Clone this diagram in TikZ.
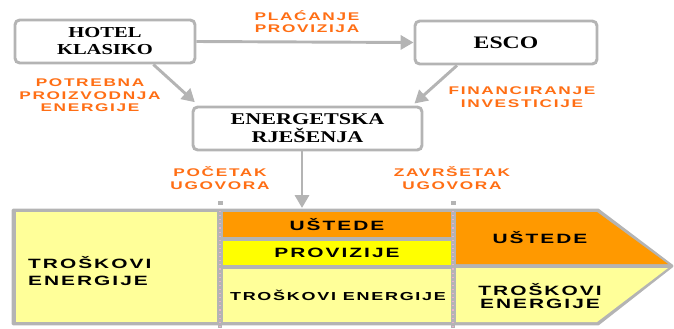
\documentclass[tikz,border=0pt]{standalone}
\usepackage{fontspec}
\setmainfont{Liberation Serif}
\newfontfamily\kfont{Liberation Serif}[FakeStretch=1.35]
\newfontfamily\sfont{Liberation Sans}[FakeStretch=1.55,LetterSpace=15]
\usetikzlibrary{arrows.meta}
\definecolor{narancasta}{RGB}{255,153,0}
\definecolor{natpis}{RGB}{255,110,20}
\definecolor{svzuta}{RGB}{255,255,153}
\definecolor{zuta}{RGB}{255,255,0}
\definecolor{siva}{RGB}{180,180,180}
\definecolor{roza}{RGB}{235,175,205}

\begin{document}
\begin{tikzpicture}[x=0.03cm, y=-0.03cm,
	kutija/.style={draw=siva, line width=2.5pt, rounded corners=4pt, fill=white, align=center,
		font=\kfont\bfseries\fontsize{13}{14.5}\selectfont, minimum height=1.29cm},
	strelica/.style={draw=siva, line width=2.5pt, -{Triangle[length=11pt, width=12pt]}},
	opis/.style={text=natpis, align=center, font=\sfont\bfseries\fontsize{9.5}{10.7}\selectfont},
	traka/.style={align=center, font=\sfont\bfseries\fontsize{11.5}{11.5}\selectfont},
	granica/.style={siva, line width=4pt},
	crtice/.style={roza, line width=1.5pt, dash pattern=on 1pt off 2.5pt}]
	% Okvir slike
	\useasboundingbox (0,0) rectangle (674,328);
	% Kutije
	\node[kutija, minimum width=5.4cm] (hotel) at (105,41.5) {HOTEL\\KLASIKO};
	\node[kutija, minimum width=5.46cm, font=\kfont\bfseries\fontsize{15}{16}\selectfont] (esco) at (506,42.5) {ESCO};
	\node[kutija, minimum width=6.87cm, font=\kfont\bfseries\fontsize{14}{15.5}\selectfont] (rjesenja) at (307.5,128.5) {ENERGETSKA\\RJEŠENJA};
	% Strelice
	\draw[strelica] (hotel.east) -- (esco.west);
	\draw[strelica] ([xshift=1.45cm]hotel.south) -- ([xshift=0.1cm, yshift=0.1cm]rjesenja.north west);
	\draw[strelica] ([xshift=-1.47cm]esco.south) -- ([xshift=-0.27cm, yshift=0.06cm]rjesenja.north east);
	\coordinate (ulaz) at (302,208);
	\draw[strelica] (rjesenja.south -| ulaz) -- (ulaz);
	% Natpisi uz strelice
	\node[opis] (placanje) at (307,21.5) {PLAĆANJE\\PROVIZIJA};
	\node[opis] (potrebna) at (90,95.5) {POTREBNA\\PROIZVODNJA\\ENERGIJE};
	\node[opis] (financiranje) at (522,97) {FINANCIRANJE\\INVESTICIJE};
	\node[opis] (pocetak) at (220,178) {POČETAK\\UGOVORA};
	\node[opis] (zavrsetak) at (452,178) {ZAVRŠETAK\\UGOVORA};
	% Donji dio: vremenska os
	\filldraw[siva, line width=2.5pt, line join=round] (13,210) -- (598,210) -- (672,266) -- (598,324) -- (13,324) -- cycle;
	\fill[svzuta] (16,212) rectangle (217,322);
	\fill[narancasta] (223,212) rectangle (452,237);
	\fill[zuta] (223,241) rectangle (452,265);
	\fill[svzuta] (223,269) rectangle (452,322);
	\fill[narancasta] (456,212) -- (597,212) -- (668,264) -- (456,264) -- cycle;
	\fill[svzuta] (456,268) -- (668,268) -- (597,322) -- (456,322) -- cycle;
	% Granice ugovora
	\foreach \x in {220,453} {
		\fill[siva] (\x-2.5,201) rectangle (\x+2.5,205);
		\draw[granica] (\x,209) -- (\x,328);
		\draw[crtice] (\x,211) -- (\x,328);
	}
	% Tekst u trakama
	\node[traka, align=left, anchor=west, font=\sfont\bfseries\fontsize{11.5}{14.5}\selectfont] (troskovi) at (24,271) {TROŠKOVI\\ENERGIJE};
	\node[traka] (ustede) at (337,224.5) {UŠTEDE};
	\node[traka] (provizije) at (337,253) {PROVIZIJE};
	\node[traka, font=\sfont\bfseries\fontsize{9.9}{11}\selectfont] (troskovisr) at (338,295) {TROŠKOVI ENERGIJE};
	\node[traka] (ustededesno) at (540,238) {UŠTEDE};
	\node[traka] (troskovidesno) at (540,296) {TROŠKOVI\\ENERGIJE};
\end{tikzpicture}
\end{document}
